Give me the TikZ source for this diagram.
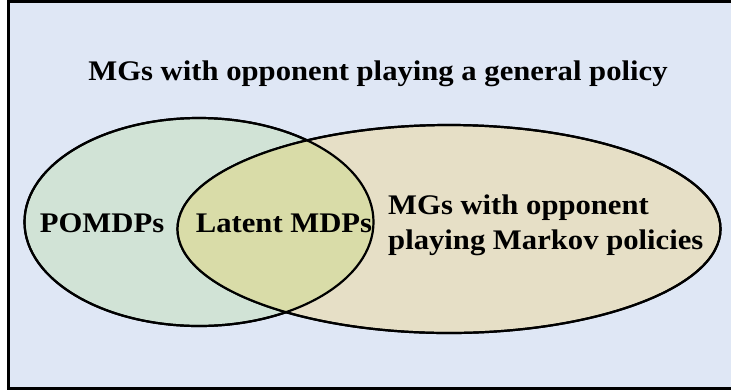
\documentclass[tikz,border=0pt]{standalone}
\usepackage{fontspec}
\setmainfont[FakeStretch=1.08]{Liberation Serif}
\usetikzlibrary{shapes.geometric}

\definecolor{bgblue}{RGB}{223,231,245}
\definecolor{setgreen}{RGB}{209,227,214}
\definecolor{setbeige}{RGB}{230,223,198}
\definecolor{setolive}{RGB}{217,220,168}

\begin{document}
\begin{tikzpicture}[
    x=1bp, y=-1bp, % pixel-like units
    set/.style={ellipse, draw, line width=2.2bp, inner sep=0pt, minimum height=208bp},
    label/.style={font=\fontsize{28.5}{35}\selectfont\bfseries, inner sep=0pt}
]
\useasboundingbox (0,0) rectangle (731,390);

\draw[line width=3bp, fill=bgblue] (8.5,1) rectangle (745,388);

\node[set, minimum width=349bp, fill=setgreen] (pomdp) at (199,222) {};
\node[set, minimum width=543bp, fill=setbeige] (mgmarkov) at (449,229) {};

% overlap of the two sets
\begin{scope}
\clip (199,222) ellipse [x radius=174, y radius=104];
\fill[setolive] (449,229) ellipse [x radius=271, y radius=104];
\end{scope}
\node[set, minimum width=349bp] (pomdpline) at (199,222) {};
\node[set, minimum width=543bp] (mgline) at (449,229) {};

\node[label, anchor=base] (general) at (378,80) {MGs with opponent playing a general policy};
\node[label, anchor=base] (pomdptext) at (102,232) {POMDPs};
\node[label, anchor=base] (latent) at (284,232) {Latent MDPs};
\node[label, anchor=west, align=left] (markov) at (388,225) {MGs with opponent\\playing Markov policies};

\end{tikzpicture}
\end{document}
